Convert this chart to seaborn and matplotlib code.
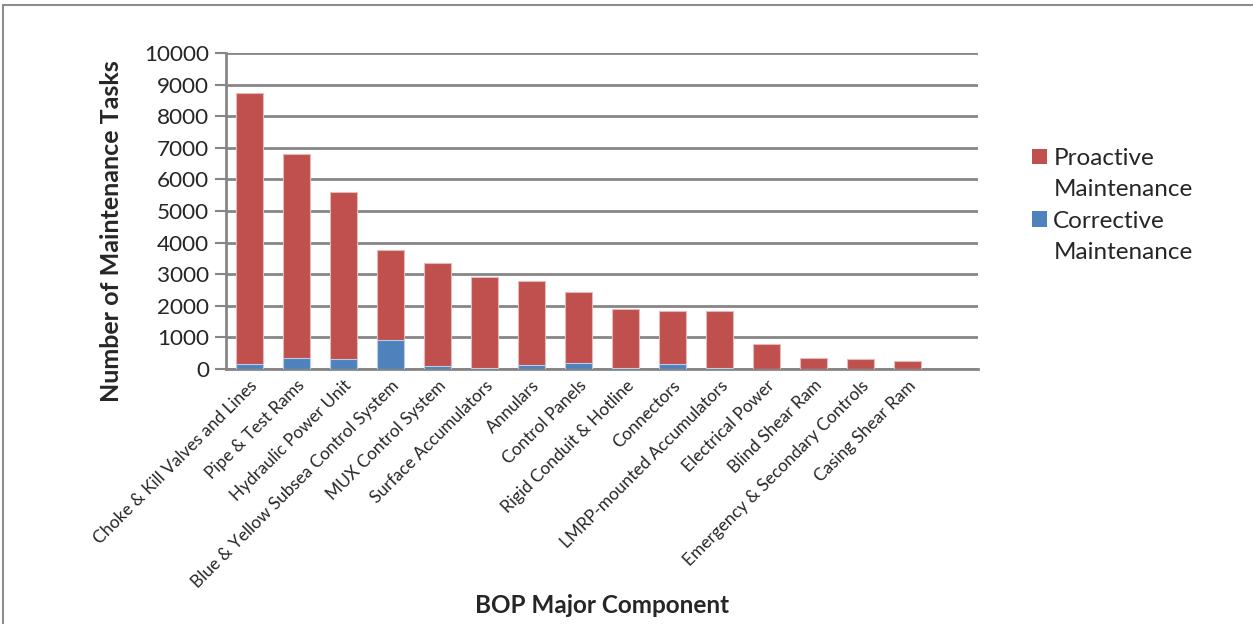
import matplotlib
matplotlib.use("Agg")
import matplotlib.pyplot as plt
from matplotlib.patches import Patch
from matplotlib.lines import Line2D
import numpy as np
import pandas as pd
import seaborn as sns

components = [
    "Choke & Kill Valves and Lines",
    "Pipe & Test Rams",
    "Hydraulic Power Unit",
    "Blue & Yellow Subsea Control System",
    "MUX Control System",
    "Surface Accumulators",
    "Annulars",
    "Control Panels",
    "Rigid Conduit & Hotline",
    "Connectors",
    "LMRP-mounted Accumulators",
    "Electrical Power",
    "Blind Shear Ram",
    "Emergency & Secondary Controls",
    "Casing Shear Ram",
]
corrective = [150, 350, 330, 920, 100, 35, 120, 200, 20, 170, 30, 10, 10, 10, 5]
proactive = [8600, 6450, 5270, 2840, 3240, 2865, 2660, 2230, 1870, 1660, 1790, 770, 330, 310, 250]

yticks = [0, 1000, 2000, 3000, 4000, 5000, 6000, 7000, 8000, 9000, 10000]

RED = "#C0504D"
BLUE = "#4F81BD"
GRID = "#868686"

df = pd.DataFrame({
    "component": components,
    "corrective": corrective,
    "proactive": proactive,
})
df["total"] = df["corrective"] + df["proactive"]

sns.set_theme(style="white")
plt.rcParams["font.family"] = ["Lato", "DejaVu Sans"]

fig = plt.figure(figsize=(12.53, 6.24), dpi=100)
ax = fig.add_axes([226 / 1253, 1 - 369 / 624, 752 / 1253, 316 / 624])

# stacked bars: proactive sits on top of corrective
sns.barplot(data=df, x="component", y="total", color=RED, saturation=1,
            width=0.57, edgecolor="#E6B9B8", linewidth=0.8, ax=ax, zorder=3)
sns.barplot(data=df, x="component", y="corrective", color=BLUE, saturation=1,
            width=0.57, edgecolor="#B9CDE5", linewidth=0.8, ax=ax, zorder=4)

ax.set_xlim(-0.5, len(components) + 0.5)
ax.set_ylim(0, 10000)
ax.set_yticks(yticks)
ax.set_yticklabels([str(v) for v in yticks], fontsize=16.2)
ax.yaxis.grid(True, color=GRID, linewidth=2, zorder=0)
ax.set_axisbelow(True)

for side in ("top", "right"):
    ax.spines[side].set_visible(False)
for side in ("left", "bottom"):
    ax.spines[side].set_color(GRID)
    ax.spines[side].set_linewidth(2)

ax.tick_params(axis="y", which="major", direction="out", length=8, width=1.5,
               color=GRID, pad=4, left=True)
ax.tick_params(axis="x", length=0, pad=6)

ax.set_xticks(range(len(components)))
ax.set_xticklabels(components, rotation=45, ha="right", rotation_mode="anchor",
                   fontsize=12.4)

ax.set_xlabel("BOP Major Component", fontsize=17.5, fontweight="bold")
ax.xaxis.set_label_coords(0.5, -0.747)
ax.xaxis.label.set_va("center")
ax.set_ylabel("Number of Maintenance Tasks", fontsize=18, fontweight="bold")
ax.yaxis.set_label_coords(-0.152, 0.437)
ax.yaxis.label.set_va("center")

handles = [
    Patch(facecolor=RED, edgecolor="none"),
    Patch(facecolor="none", edgecolor="none"),
    Patch(facecolor=BLUE, edgecolor="none"),
    Patch(facecolor="none", edgecolor="none"),
]
labels = ["Proactive", "Maintenance", "Corrective", "Maintenance"]
leg = ax.legend(handles, labels, loc="upper left",
                bbox_to_anchor=(1020 / 1253, 1 - 136 / 624),
                bbox_transform=fig.transFigure, frameon=False,
                fontsize=17.5, handlelength=0.62, handleheight=0.62,
                handletextpad=0.25, labelspacing=0.42, borderpad=0)

# outer frame of the chart area
fig.add_artist(Line2D([3 / 1253, 1.0], [1 - 5 / 624, 1 - 5 / 624],
                      transform=fig.transFigure, color="#8C8C8C", linewidth=1.5))
fig.add_artist(Line2D([3 / 1253, 3 / 1253], [0.0, 1 - 5 / 624],
                      transform=fig.transFigure, color="#8C8C8C", linewidth=1.5))

fig.savefig("out.png", dpi=100)
